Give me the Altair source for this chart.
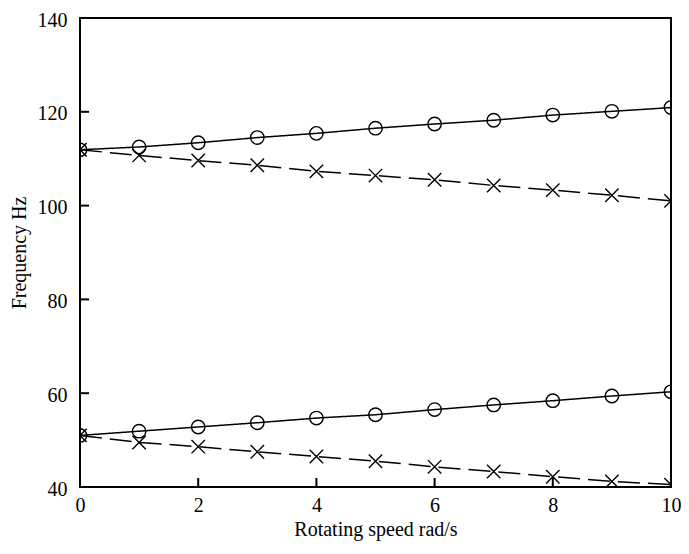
import altair as alt
import pandas as pd

speed = [0, 1, 2, 3, 4, 5, 6, 7, 8, 9, 10]
upper_fwd = [111.9, 112.5, 113.4, 114.5, 115.4, 116.5, 117.4, 118.2, 119.3, 120.1, 120.9]
upper_bwd = [111.9, 110.7, 109.6, 108.6, 107.3, 106.4, 105.5, 104.3, 103.3, 102.2, 101.0]
lower_fwd = [51.0, 51.9, 52.8, 53.7, 54.7, 55.4, 56.5, 57.5, 58.4, 59.4, 60.3]
lower_bwd = [51.0, 49.5, 48.6, 47.5, 46.5, 45.5, 44.3, 43.3, 42.2, 41.2, 40.5]

x_ticks = [0, 2, 4, 6, 8, 10]
y_ticks = [40, 60, 80, 100, 120, 140]

rows = []
for name, kind, vals in [("upper_fwd", "fwd", upper_fwd), ("upper_bwd", "bwd", upper_bwd),
                         ("lower_fwd", "fwd", lower_fwd), ("lower_bwd", "bwd", lower_bwd)]:
    for s, v in zip(speed, vals):
        rows.append({"speed": s, "freq": v, "mode": name, "kind": kind})
df = pd.DataFrame(rows)

W, H = 591, 469
FONT = "Liberation Serif"

xs = alt.Scale(domain=[0, 10], nice=False)
ys = alt.Scale(domain=[40, 140], nice=False)

xaxis = alt.Axis(values=x_ticks, format="d", title="Rotating speed rad/s", ticks=False, domain=False, grid=False,
                 labelFlush=False, labelOverlap=False, labelPadding=8, labelBound=False,
                 titleX=W / 2, titleY=42, titleBaseline="middle", titleAlign="center")
yaxis = alt.Axis(values=y_ticks, format="d", title="Frequency Hz", ticks=False, domain=False, grid=False,
                 labelFlush=False, labelOverlap=False, labelPadding=13, labelBound=False, labelOffset=2,
                 titleX=-61, titleY=H / 2, titleAngle=-90, titleBaseline="middle", titleAlign="center")

base = alt.Chart(df)

lines = base.mark_line(color="black", strokeWidth=1.5, clip=True).encode(
    x=alt.X("speed:Q", scale=xs, axis=xaxis),
    y=alt.Y("freq:Q", scale=ys, axis=yaxis),
    detail="mode:N",
    strokeDash=alt.StrokeDash("kind:N", scale=alt.Scale(domain=["fwd", "bwd"], range=[[1, 0], [22, 8]]), legend=None),
)

points = base.mark_point(color="black", filled=False, strokeWidth=1.4, size=180, clip=True, opacity=1).encode(
    x=alt.X("speed:Q", scale=xs),
    y=alt.Y("freq:Q", scale=ys),
    shape=alt.Shape("kind:N", scale=alt.Scale(domain=["fwd", "bwd"], range=["circle", "M-1,-1L1,1M1,-1L-1,1"]), legend=None),
)

xt = alt.Chart(pd.DataFrame({"speed": x_ticks})).mark_rule(color="black", strokeWidth=2).encode(
    x=alt.X("speed:Q", scale=xs), y=alt.value(H - 9), y2=alt.value(H)
)
yt = alt.Chart(pd.DataFrame({"freq": y_ticks})).mark_rule(color="black", strokeWidth=2).encode(
    y=alt.Y("freq:Q", scale=ys), x=alt.value(0), x2=alt.value(9)
)

chart = alt.layer(lines, points, xt, yt).properties(
    width=W, height=H,
    background="white",
    autosize=alt.AutoSizeParams(type="none"),
    padding={"left": 72, "top": 10, "right": 10, "bottom": 55},
).configure_view(stroke="black", strokeWidth=2).configure_axis(
    labelFont=FONT, titleFont=FONT, labelFontSize=20, titleFontSize=20,
    labelColor="black", titleColor="black", titleFontWeight="normal",
)

chart.save("out.html", embed_options={"renderer": "svg", "actions": False})
